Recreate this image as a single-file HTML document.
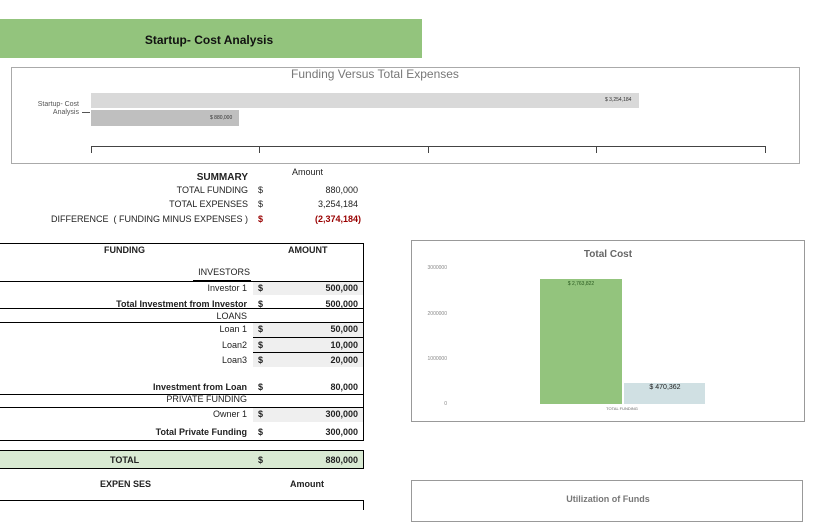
<!DOCTYPE html>
<html><head><style>
body{margin:0;width:828px;height:510px;overflow:hidden;background:#fff;font-family:"Liberation Sans",Arial,sans-serif;position:relative}
.a{position:absolute;white-space:nowrap}
.r{text-align:right}
.f{font-size:10px;color:#222}
.b{font-weight:bold}
.h{position:absolute;background:#000;height:1px}
.g{position:absolute;background:#efefef}
</style></head><body>
<div class="a" style="left:0;top:19px;width:422px;height:39px;background:#93c47d"></div>
<div class="a b" style="left:0;top:33px;width:418px;text-align:center;font-size:12px;color:#111">Startup- Cost Analysis</div>

<div class="a" style="left:11px;top:67px;width:787px;height:95px;border:1px solid #aaa"></div>
<div class="a" style="left:200px;top:67px;width:350px;text-align:center;font-size:12px;color:#777">Funding Versus Total Expenses</div>
<div class="a" style="left:91px;top:93px;width:548px;height:15px;background:#d9d9d9"></div>
<div class="a" style="left:91px;top:110px;width:148px;height:16px;background:#bfbfbf"></div>
<div class="a" style="left:605px;top:97px;font-size:5px;color:#333">$ 3,254,184</div>
<div class="a" style="left:210px;top:115px;font-size:5px;color:#333">$ 880,000</div>
<div class="a r" style="left:20px;top:101px;width:59px;font-size:7px;color:#555;line-height:8px">Startup- Cost<br>Analysis</div>
<div class="a" style="left:82px;top:112px;width:8px;height:1px;background:#555"></div>
<div class="a" style="left:91px;top:146px;width:674px;height:1px;background:#444"></div>
<div class="a" style="left:91px;top:146px;width:1px;height:7px;background:#444"></div>
<div class="a" style="left:259px;top:146px;width:1px;height:7px;background:#444"></div>
<div class="a" style="left:428px;top:146px;width:1px;height:7px;background:#444"></div>
<div class="a" style="left:596px;top:146px;width:1px;height:7px;background:#444"></div>
<div class="a" style="left:765px;top:146px;width:1px;height:7px;background:#444"></div>

<div class="a f" style="left:292px;top:167px;font-size:9px">Amount</div>
<div class="a f b r" style="left:100px;top:172px;width:148px">SUMMARY</div>
<div class="a f r" style="left:100px;top:185px;width:148px;font-size:9px">TOTAL FUNDING</div>
<div class="a f" style="left:258px;top:185px;font-size:9px">$</div>
<div class="a f r" style="left:300px;top:185px;width:58px;font-size:9px">880,000</div>
<div class="a f r" style="left:100px;top:199px;width:148px;font-size:9px">TOTAL EXPENSES</div>
<div class="a f" style="left:258px;top:199px;font-size:9px">$</div>
<div class="a f r" style="left:300px;top:199px;width:58px;font-size:9px">3,254,184</div>
<div class="a f r" style="left:20px;top:214px;width:228px;font-size:9px">DIFFERENCE &nbsp;( FUNDING MINUS EXPENSES )</div>
<div class="a f b" style="left:258px;top:214px;font-size:9px;color:#900">$</div>
<div class="a f b r" style="left:300px;top:214px;width:61px;font-size:9px;color:#900">(2,374,184)</div>

<!-- funding table -->
<div class="g" style="left:253px;top:282px;width:110px;height:13px"></div>
<div class="g" style="left:253px;top:323px;width:110px;height:44px"></div>
<div class="g" style="left:253px;top:408px;width:110px;height:14px"></div>
<div class="h" style="left:0;top:243px;width:364px"></div>
<div class="a" style="left:363px;top:243px;width:1px;height:198px;background:#000"></div>
<div class="h" style="left:193px;top:280px;width:58px"></div>
<div class="h" style="left:0;top:281px;width:364px"></div>
<div class="h" style="left:0;top:308px;width:364px"></div>
<div class="h" style="left:0;top:322px;width:364px"></div>
<div class="h" style="left:253px;top:337px;width:110px"></div>
<div class="h" style="left:253px;top:352px;width:110px"></div>
<div class="h" style="left:0;top:394px;width:364px"></div>
<div class="h" style="left:0;top:407px;width:364px"></div>
<div class="h" style="left:0;top:440px;width:364px"></div>
<div class="a" style="left:0;top:450px;width:363px;height:17px;background:#d9ead3;border-top:1px solid #000;border-bottom:1px solid #000;border-right:1px solid #000"></div>
<div class="h" style="left:0;top:500px;width:364px"></div>
<div class="a" style="left:363px;top:500px;width:1px;height:10px;background:#000"></div>

<div class="a f b" style="left:104px;top:245px;font-size:9px">FUNDING</div>
<div class="a f b" style="left:288px;top:245px;font-size:9px">AMOUNT</div>
<div class="a f r" style="left:100px;top:267px;width:150px;font-size:9px">INVESTORS</div>
<div class="a f r" style="left:50px;top:283px;width:197px;font-size:9px">Investor 1</div>
<div class="a f b r" style="left:50px;top:299px;width:197px;font-size:9px">Total Investment from Investor</div>
<div class="a f r" style="left:50px;top:311px;width:197px;font-size:9px">LOANS</div>
<div class="a f r" style="left:50px;top:324px;width:197px;font-size:9px">Loan 1</div>
<div class="a f r" style="left:50px;top:340px;width:197px;font-size:9px">Loan2</div>
<div class="a f r" style="left:50px;top:355px;width:197px;font-size:9px">Loan3</div>
<div class="a f b r" style="left:50px;top:382px;width:197px;font-size:9px">Investment from Loan</div>
<div class="a f r" style="left:50px;top:394px;width:197px;font-size:9px">PRIVATE FUNDING</div>
<div class="a f r" style="left:50px;top:409px;width:197px;font-size:9px">Owner 1</div>
<div class="a f b r" style="left:50px;top:427px;width:197px;font-size:9px">Total Private Funding</div>
<div class="a f b" style="left:110px;top:455px;font-size:9px">TOTAL</div>
<div class="a f b" style="left:100px;top:479px;font-size:9px">EXPEN SES</div>
<div class="a f b" style="left:290px;top:479px;font-size:9px">Amount</div>

<div class="a f b" style="left:258px;top:283px;font-size:9px">$</div>
<div class="a f b" style="left:258px;top:299px;font-size:9px">$</div>
<div class="a f b" style="left:258px;top:324px;font-size:9px">$</div>
<div class="a f b" style="left:258px;top:340px;font-size:9px">$</div>
<div class="a f b" style="left:258px;top:355px;font-size:9px">$</div>
<div class="a f b" style="left:258px;top:382px;font-size:9px">$</div>
<div class="a f b" style="left:258px;top:409px;font-size:9px">$</div>
<div class="a f b" style="left:258px;top:427px;font-size:9px">$</div>
<div class="a f b" style="left:258px;top:455px;font-size:9px">$</div>
<div class="a f b r" style="left:300px;top:283px;width:58px;font-size:9px">500,000</div>
<div class="a f b r" style="left:300px;top:299px;width:58px;font-size:9px">500,000</div>
<div class="a f b r" style="left:300px;top:324px;width:58px;font-size:9px">50,000</div>
<div class="a f b r" style="left:300px;top:340px;width:58px;font-size:9px">10,000</div>
<div class="a f b r" style="left:300px;top:355px;width:58px;font-size:9px">20,000</div>
<div class="a f b r" style="left:300px;top:382px;width:58px;font-size:9px">80,000</div>
<div class="a f b r" style="left:300px;top:409px;width:58px;font-size:9px">300,000</div>
<div class="a f b r" style="left:300px;top:427px;width:58px;font-size:9px">300,000</div>
<div class="a f b r" style="left:300px;top:455px;width:58px;font-size:9px">880,000</div>

<!-- total cost chart -->
<div class="a" style="left:411px;top:240px;width:392px;height:180px;border:1px solid #999"></div>
<div class="a b" style="left:508px;top:249px;width:200px;text-align:center;font-size:10px;color:#666">Total Cost</div>
<div class="a r" style="left:410px;top:265px;width:37px;font-size:5px;color:#888">3000000</div>
<div class="a r" style="left:410px;top:311px;width:37px;font-size:5px;color:#888">2000000</div>
<div class="a r" style="left:410px;top:356px;width:37px;font-size:5px;color:#888">1000000</div>
<div class="a r" style="left:410px;top:401px;width:37px;font-size:5px;color:#888">0</div>
<div class="a" style="left:540px;top:279px;width:82px;height:125px;background:#93c47d"></div>
<div class="a" style="left:624px;top:383px;width:81px;height:21px;background:#d0e0e3"></div>
<div class="a" style="left:560px;top:281px;width:42px;text-align:center;font-size:5px;color:#2a5a20">$ 2,763,822</div>
<div class="a" style="left:640px;top:384px;width:50px;text-align:center;font-size:7px;color:#222">$ 470,362</div>
<div class="a" style="left:592px;top:406px;width:60px;text-align:center;font-size:4px;color:#666">TOTAL FUNDING</div>

<div class="a" style="left:411px;top:480px;width:390px;height:40px;border:1px solid #999"></div>
<div class="a b" style="left:508px;top:494px;width:200px;text-align:center;font-size:9px;color:#777">Utilization of Funds</div>
</body></html>
